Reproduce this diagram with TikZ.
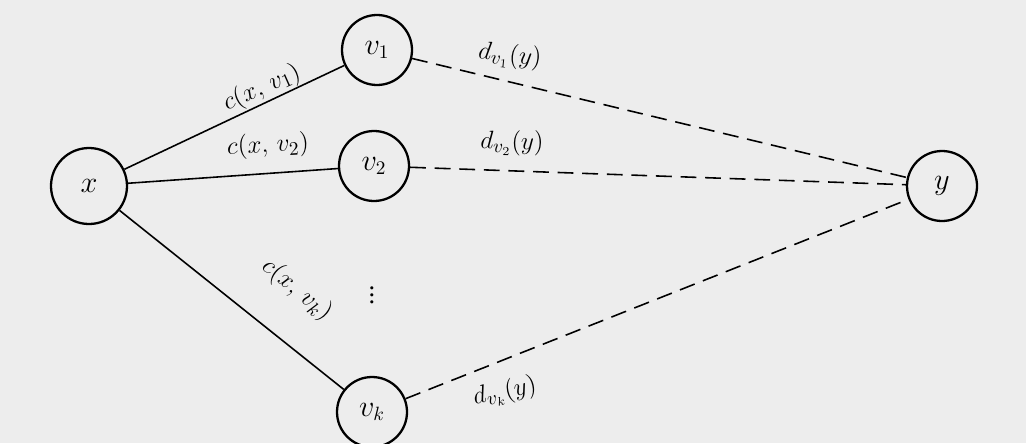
\documentclass[tikz,border=0pt]{standalone}
\usepackage{fontspec}
\setmainfont{Liberation Serif}
\begin{document}
\begin{tikzpicture}[x=0.02cm,y=-0.02cm,
  vert/.style={circle,draw,line width=1.3pt,minimum size=70*0.02cm,inner sep=0pt,font=\fontsize{16}{18}\selectfont},
  lbl/.style={font=\fontsize{15}{18}\selectfont,inner sep=1pt},
  solidedge/.style={line width=0.9pt},
  dashedge/.style={line width=0.9pt,dash pattern=on 9pt off 5pt}]
\fill[gray!14] (0,0) rectangle (1026,443);
\useasboundingbox (0,0) rectangle (1026,443);
\node[vert,minimum size=76*0.02cm] (x) at (89,186) {$x$};
\node[vert] (v1) at (377,50) {$v_1$};
\node[vert] (v2) at (374,166) {$v_2$};
\node[vert] (vk) at (372,412) {$v_k$};
\node[vert] (y) at (942,186) {$y$};
\node[lbl] (dots) at (372,290) {$\vdots$};
\draw[solidedge] (x) -- (v1);
\draw[solidedge] (x) -- (v2);
\draw[solidedge] (x) -- (vk);
\draw[dashedge] (v1) -- (y);
\draw[dashedge] (v2) -- (y);
\draw[dashedge] (vk) -- (y);
\node[lbl,rotate=24] (l1) at (262,88) {$c(x,\,v_1)$};
\node[lbl,rotate=3] (l2) at (268,146) {$c(x,\,v_2)$};
\node[lbl,rotate=-39] (l3) at (297,290) {$c(x,\,v_k)$};
\node[lbl,rotate=-6] (d1) at (510,56) {$d_{v_1}(y)$};
\node[lbl,rotate=-1] (d2) at (512,143) {$d_{v_2}(y)$};
\node[lbl,rotate=12] (d3) at (505,392) {$d_{v_k}(y)$};
\end{tikzpicture}
\end{document}
